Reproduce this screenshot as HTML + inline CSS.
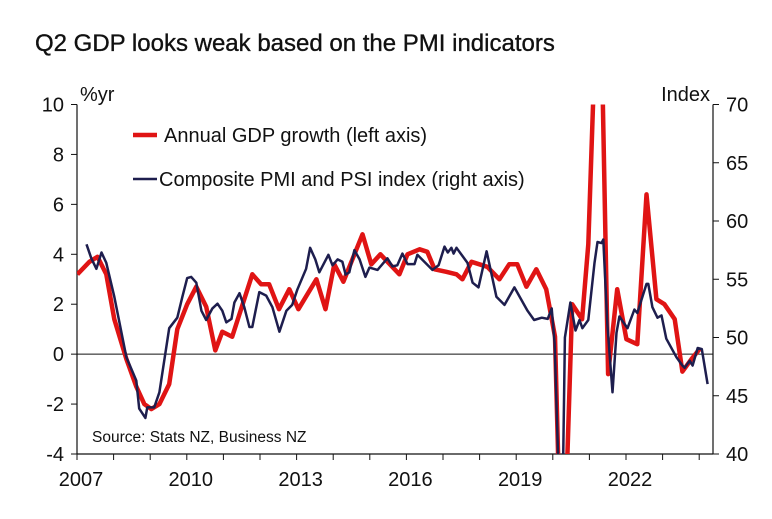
<!DOCTYPE html>
<html><head><meta charset="utf-8">
<style>
html,body{margin:0;background:#fff;overflow:hidden;width:772px;height:519px;}
svg{display:block;font-family:"Liberation Sans",Arial,sans-serif;}
</style></head>
<body>
<svg id="chart" width="772" height="519" viewBox="0 0 772 519">
<text x="35" y="51" font-size="24" fill="#111" stroke="#111" stroke-width="0.35">Q2 GDP looks weak based on the PMI indicators</text>
<text x="80" y="101" font-size="20" fill="#111">%yr</text>
<text x="710" y="101" font-size="20" fill="#111" text-anchor="end">Index</text>
<g id="axes"></g>
<defs><clipPath id="plotclip"><rect x="77" y="104.5" width="636" height="349.5"/></clipPath></defs>
<g id="series" clip-path="url(#plotclip)"></g>
<line x1="133" y1="135" x2="157" y2="135" stroke="#e01414" stroke-width="4.5"/>
<text x="164" y="142" font-size="20" fill="#111">Annual GDP growth (left axis)</text>
<line x1="133" y1="179" x2="157" y2="179" stroke="#1e1e4e" stroke-width="2.5"/>
<text x="159" y="186" font-size="20" fill="#111">Composite PMI and PSI index (right axis)</text>
<text x="92" y="442" font-size="15.5" fill="#111">Source: Stats NZ, Business NZ</text>
</svg>
<script>
const leftTicks=[10,8,6,4,2,0,-2,-4];
const rightTicks=[70,65,60,55,50,45,40];
const yearLabels=[2007,2010,2013,2016,2019,2022];
const gdpDates=[2007.01,2007.34,2007.56,2007.80,2008.02,2008.35,2008.62,2008.84,2009.03,2009.25,2009.52,2009.74,2010.01,2010.26,2010.53,2010.78,2010.97,2011.24,2011.79,2012.03,2012.25,2012.52,2012.80,2013.05,2013.54,2013.79,2014.03,2014.28,2014.80,2015.04,2015.29,2015.81,2016.03,2016.36,2016.57,2016.77,2017.09,2017.37,2017.53,2017.78,2018.21,2018.54,2018.81,2019.03,2019.28,2019.55,2019.82,2019.96,2020.06,2020.26,2020.53,2020.80,2020.97,2021.27,2021.51,2021.76,2022.01,2022.31,2022.56,2022.83,2023.05,2023.33,2023.54,2023.79,2024.01];
const gdpValues=[3.2,3.7,3.9,3.2,1.4,-0.2,-1.3,-2.0,-2.2,-2.0,-1.2,1.0,2.0,2.7,1.9,0.15,0.9,0.7,3.2,2.8,2.8,1.8,2.6,1.8,3.0,1.8,3.6,2.9,4.8,3.6,4.0,3.2,4.0,4.2,4.1,3.4,3.3,3.2,3.0,3.7,3.5,3.0,3.6,3.6,2.7,3.4,2.6,1.5,0.7,-10.5,2.0,1.4,4.4,17.4,-0.8,2.6,0.6,0.4,6.4,2.2,2.0,1.4,-0.7,-0.2,0.2];
const pmiDates=[2007.26,2007.39,2007.53,2007.67,2007.80,2008.02,2008.35,2008.62,2008.70,2008.87,2008.92,2009.11,2009.25,2009.52,2009.74,2009.88,2010.01,2010.12,2010.26,2010.40,2010.53,2010.70,2010.84,2010.97,2011.08,2011.22,2011.30,2011.44,2011.57,2011.71,2011.79,2011.98,2012.17,2012.34,2012.53,2012.72,2012.88,2013.02,2013.26,2013.37,2013.51,2013.62,2013.87,2013.98,2014.12,2014.25,2014.34,2014.44,2014.58,2014.72,2014.88,2014.99,2015.21,2015.48,2015.62,2015.75,2015.89,2016.03,2016.22,2016.30,2016.71,2016.88,2017.04,2017.13,2017.23,2017.29,2017.37,2017.67,2017.81,2017.97,2018.19,2018.46,2018.68,2018.95,2019.31,2019.49,2019.70,2019.86,2019.97,2020.05,2020.24,2020.33,2020.48,2020.62,2020.73,2020.81,2020.97,2021.14,2021.22,2021.33,2021.38,2021.49,2021.63,2021.74,2021.82,2021.95,2022.04,2022.23,2022.31,2022.56,2022.61,2022.72,2022.86,2022.97,2023.10,2023.38,2023.54,2023.60,2023.74,2023.82,2023.96,2024.07,2024.23];
const pmiValues=[58.0,56.8,55.9,57.3,56.4,53.5,48.3,46.3,43.9,43.1,44.0,44.0,45.3,50.8,51.7,53.5,55.1,55.2,54.7,52.3,51.5,52.5,52.9,52.3,51.3,51.6,53.0,53.8,52.6,50.9,50.9,53.9,53.6,52.6,50.5,52.3,52.8,54.1,55.9,57.7,56.7,55.6,57.1,56.2,56.7,56.5,55.4,55.6,57.5,56.7,55.2,56.0,55.8,56.8,56.1,56.2,57.2,56.3,56.3,57.1,55.8,56.2,57.8,57.3,57.7,57.2,57.7,56.4,54.7,54.3,57.4,53.5,52.8,54.3,52.3,51.5,51.7,51.6,52.5,49.5,30.0,50.0,53.0,50.6,51.5,50.8,51.5,56.4,58.2,58.1,58.4,51.2,45.3,50.4,51.8,51.2,50.8,52.4,52.1,54.6,54.6,52.6,51.7,51.9,49.9,48.3,47.6,47.4,48.0,47.6,49.1,49.0,46.0];

const NS="http://www.w3.org/2000/svg";
const X0=77,X1=713,Y0=104.5,Y1=454;
const xs=y=>X0+(y-2007)*36.6;
const yl=v=>Y1-(v-(-4))/14*(Y1-Y0);
const yr=v=>Y1-(v-40)/30*(Y1-Y0);
function mk(tag,attrs,parent){const e=document.createElementNS(NS,tag);for(const k in attrs)e.setAttribute(k,attrs[k]);parent.appendChild(e);return e;}
const axes=document.getElementById('axes');
const series=document.getElementById('series');
let e;
e=mk('line',{x1:X0,y1:Y0,x2:X0,y2:Y1,stroke:'#111','stroke-width':1.2},axes);


e=mk('line',{x1:X1,y1:Y0,x2:X1,y2:Y1,stroke:'#111','stroke-width':1.2},axes);


e=mk('line',{x1:X0,y1:Y1,x2:X1,y2:Y1,stroke:'#111','stroke-width':1.2},axes);


e=mk('line',{x1:X0,y1:yl(0),x2:X1,y2:yl(0),stroke:'#111','stroke-width':1},axes);


leftTicks.forEach(v=>{
  mk('line',{x1:X0-6,y1:yl(v),x2:X0,y2:yl(v),stroke:'#111'},axes);
  e=mk('text',{x:X0-13,y:yl(v)+7,'font-size':20,'text-anchor':'end',fill:'#111'},axes);
  e.textContent=v;
  
  
});
rightTicks.forEach(v=>{
  mk('line',{x1:X1,y1:yr(v),x2:X1+6,y2:yr(v),stroke:'#111'},axes);
  e=mk('text',{x:X1+13,y:yr(v)+7,'font-size':20,fill:'#111'},axes);
  e.textContent=v;
  
  
});
for(let yy=2007;yy<=2024;yy++){mk('line',{x1:xs(yy),y1:Y1,x2:xs(yy),y2:Y1+6,stroke:'#111'},axes);}
yearLabels.forEach(v=>{
  e=mk('text',{x:xs(v)+4,y:486,'font-size':20,'text-anchor':'middle',fill:'#111'},axes);
  e.textContent=v;
  
  
});
e=mk('polyline',{points:pmiDates.map((d,i)=>xs(d).toFixed(1)+','+yr(pmiValues[i]).toFixed(1)).join(' '),fill:'none',stroke:'#1e1e4e','stroke-width':2.5,'stroke-linejoin':'round'},series);


e=mk('polyline',{points:gdpDates.map((d,i)=>xs(d).toFixed(1)+','+yl(gdpValues[i]).toFixed(1)).join(' '),fill:'none',stroke:'#e01414','stroke-width':4.5,'stroke-linejoin':'round'},series);


series.insertBefore(e,series.firstChild);
</script>
</body></html>
